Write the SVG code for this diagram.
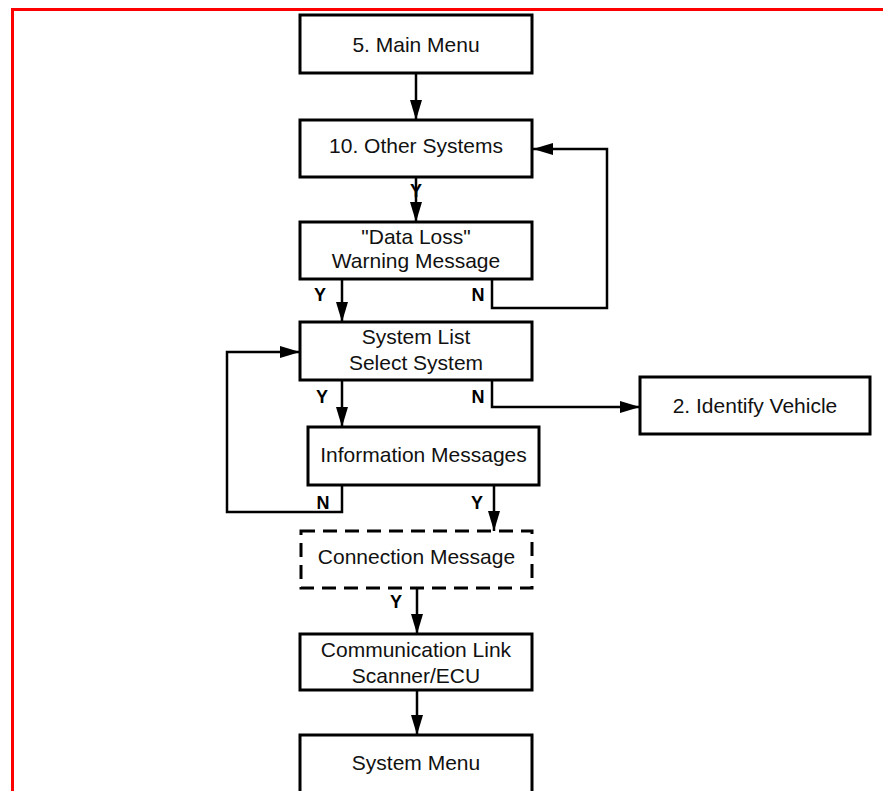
<svg xmlns="http://www.w3.org/2000/svg" width="883" height="791" viewBox="0 0 883 791">
<style>
.box{fill:#fff;stroke:#000;stroke-width:3}
.dash{fill:#fff;stroke:#000;stroke-width:3;stroke-dasharray:14 8}
.t{font-family:"Liberation Sans",Arial,sans-serif;font-size:21px;fill:#111;text-anchor:middle}
.yn{font-family:"Liberation Sans",Arial,sans-serif;font-size:18px;font-weight:bold;fill:#000;text-anchor:middle}
.c{fill:none;stroke:#000;stroke-width:2.5}
</style>
<defs>
<marker id="ah" markerUnits="userSpaceOnUse" markerWidth="20" markerHeight="12" refX="20" refY="6" orient="auto">
<path d="M0,0 L20,6 L0,12 z" fill="#000"/>
</marker>
</defs>
<rect x="0" y="0" width="883" height="791" fill="#fff"/>
<path d="M12.5,800 L12.5,9.5 L900,9.5" fill="none" stroke="#f00" stroke-width="3"/>

<g id="connectors">
<path class="c" d="M416,73 L416,120" marker-end="url(#ah)"/>
<path class="c" d="M416,177 L416,222" marker-end="url(#ah)"/>
<path class="c" d="M342,279 L342,322" marker-end="url(#ah)"/>
<path class="c" d="M492,279 L492,308 L607,308 L607,149 L533,149" marker-end="url(#ah)"/>
<path class="c" d="M342,380 L342,427" marker-end="url(#ah)"/>
<path class="c" d="M492,380 L492,407 L640,407" marker-end="url(#ah)"/>
<path class="c" d="M342,485 L342,512 L227,512 L227,352 L300,352" marker-end="url(#ah)"/>
<path class="c" d="M494,485 L494,531" marker-end="url(#ah)"/>
<path class="c" d="M417,588 L417,634" marker-end="url(#ah)"/>
<path class="c" d="M417,690 L417,735" marker-end="url(#ah)"/>
<text class="yn" x="416" y="197">Y</text>
<text class="yn" x="320" y="301">Y</text>
<text class="yn" x="478" y="301">N</text>
<text class="yn" x="322" y="403">Y</text>
<text class="yn" x="478" y="403">N</text>
<text class="yn" x="323" y="509">N</text>
<text class="yn" x="477" y="509">Y</text>
<text class="yn" x="396" y="608">Y</text>
</g>

<g id="main-menu">
<rect class="box" x="300" y="15" width="232" height="58"/>
<text class="t" x="416" y="52">5. Main Menu</text>
</g>
<g id="other-systems">
<rect class="box" x="300" y="120" width="232" height="57"/>
<text class="t" x="416" y="153">10. Other Systems</text>
</g>
<g id="data-loss">
<rect class="box" x="300" y="222" width="232" height="57"/>
<text class="t" x="416" y="244">"Data Loss"</text>
<text class="t" x="416" y="268">Warning Message</text>
</g>
<g id="system-list">
<rect class="box" x="300" y="322" width="232" height="58"/>
<text class="t" x="416" y="344">System List</text>
<text class="t" x="416" y="370">Select System</text>
</g>
<g id="identify-vehicle">
<rect class="box" x="640" y="377" width="230" height="57"/>
<text class="t" x="755" y="413">2. Identify Vehicle</text>
</g>
<g id="information-messages">
<rect class="box" x="308" y="427" width="231" height="58"/>
<text class="t" x="423.5" y="462">Information Messages</text>
</g>
<g id="connection-message">
<rect class="dash" x="301" y="531" width="231" height="57"/>
<text class="t" x="416.5" y="564">Connection Message</text>
</g>
<g id="communication-link">
<rect class="box" x="300" y="634" width="232" height="56"/>
<text class="t" x="416" y="657">Communication Link</text>
<text class="t" x="416" y="683">Scanner/ECU</text>
</g>
<g id="system-menu">
<rect class="box" x="300" y="735" width="232" height="70"/>
<text class="t" x="416" y="770">System Menu</text>
</g>
</svg>
